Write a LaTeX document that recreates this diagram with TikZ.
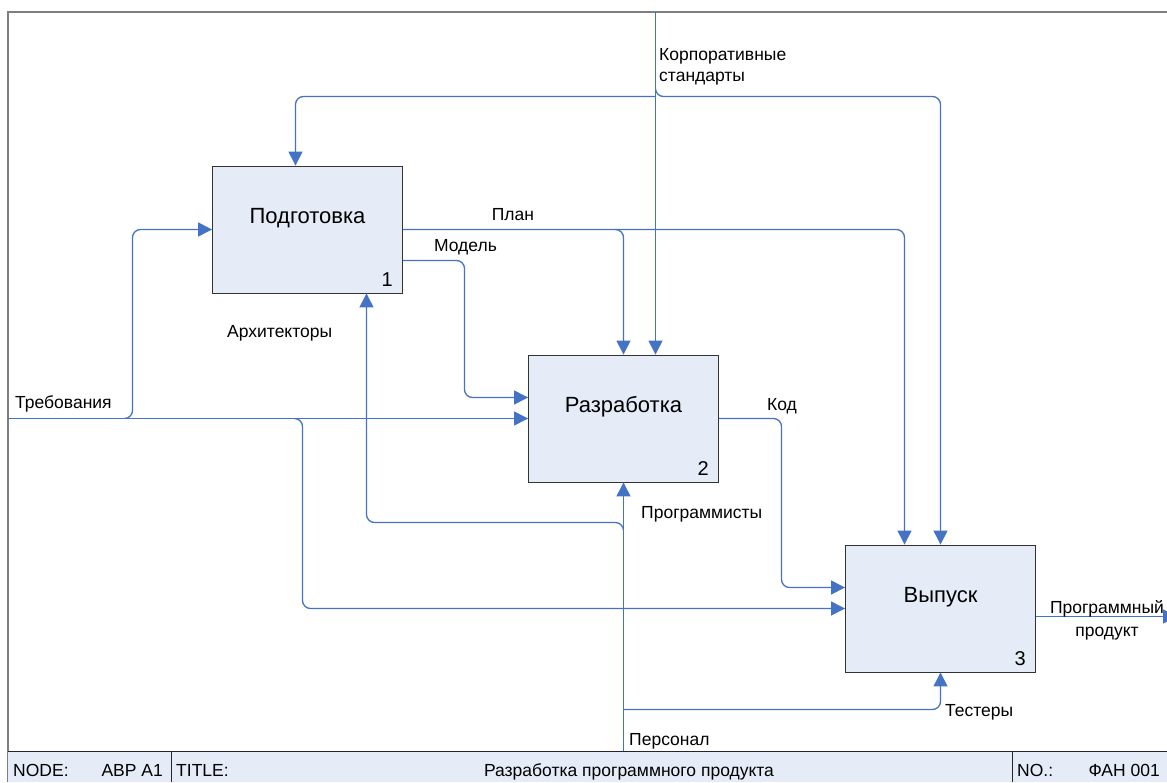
\documentclass[tikz,border=0pt]{standalone}
\usepackage{fontspec}
\setmainfont{Liberation Sans}
\usetikzlibrary{arrows.meta,calc}
\definecolor{flowblue}{HTML}{4472C4}
\definecolor{boxfill}{HTML}{E6ECF7}
\definecolor{framegray}{HTML}{7F7F7F}
\begin{document}
\begin{tikzpicture}[x=1pt,y=-1pt,
  stagebox/.style={draw=black!80, fill=boxfill, line width=0.9pt,
    minimum width=190pt, minimum height=127pt, inner sep=0pt},
  flow/.style={draw=flowblue, line width=1.3pt, rounded corners=8pt,
    -{Triangle[length=14pt,width=14pt]}},
  lbl/.style={font=\fontsize{17.5}{21.5}\selectfont, inner sep=0pt},
  boxtxt/.style={font=\fontsize{22}{26}\selectfont, inner sep=0pt, anchor=base},
  numtxt/.style={font=\fontsize{20}{24}\selectfont, inner sep=0pt, anchor=base east},
  bartxt/.style={font=\fontsize{17.5}{21}\selectfont, inner sep=0pt}]
\useasboundingbox (0,0) rectangle (1167,782);

% sheet frame
\draw[framegray, line width=2pt] (8,782) -- (8,12) -- (1170,12);

% activity boxes
\node[stagebox] (b1) at (307.5,229.5) {};
\node[stagebox] (b2) at (623.5,418.5) {};
\node[stagebox] (b3) at (940.5,608.5) {};
\node[boxtxt] (t1) at ([yshift=6pt]b1.center) {Подготовка};
\node[boxtxt] (t2) at ([yshift=6pt]b2.center) {Разработка};
\node[boxtxt] (t3) at ([yshift=6pt]b3.center) {Выпуск};
\node[numtxt] (n1) at ([xshift=-10pt,yshift=6.5pt]b1.south east) {1};
\node[numtxt] (n2) at ([xshift=-10pt,yshift=6.5pt]b2.south east) {2};
\node[numtxt] (n3) at ([xshift=-10pt,yshift=6.5pt]b3.south east) {3};

% boundary points, branch points and routing guides
\coordinate (cs) at (655.5,12);
\coordinate (csj) at (655.5,96.5);
\coordinate (req) at (8,418.5);
\coordinate (reqa) at (132.5,418.5);
\coordinate (reqb) at (302.5,418.5);
\coordinate (pers) at (623.5,751);
\coordinate (persa) at (623.5,522.5);
\coordinate (persb) at (623.5,709.5);
\coordinate (mdl) at (464.5,0);
\coordinate (kod) at (781.5,0);
\coordinate (out) at (1177,0);
\coordinate (c1) at ([xshift=-12pt]b1.north);
\coordinate (p3) at ([xshift=-36pt]b3.north);
\coordinate (pj) at (b1.east -| b2.north);
\coordinate (m1) at ([yshift=-31pt]b1.east);
\coordinate (m2) at ([yshift=21pt]b2.west);
\coordinate (k3) at ([yshift=21pt]b3.west);
\coordinate (a1) at ([xshift=59pt]b1.south);
\coordinate (o3) at ([yshift=-8pt]b3.east);

% controls
\draw[flow] (cs) -- (cs |- b2.north);
\draw[flow] (csj) -| (c1);
\draw[flow] ([yshift=8pt]csj) -- (csj) -| (b3.north);

% inputs
\draw[flow] (req) -- (b2.west);
\draw[flow] ([xshift=-8pt]reqa) -- (reqa) -- (reqa |- b1.west) -- (b1.west);
\draw[flow] ([xshift=-8pt]reqb) -- (reqb) -- (reqb |- b3.west) -- (b3.west);

% outputs between activities
\draw[flow] (b1.east) -| (p3);
\draw[flow] ([xshift=-8pt]pj) -- (pj) -- (b2.north);
\draw[flow] (m1) -| (mdl |- m2) -- (m2);
\draw[flow] (b2.east) -| (kod |- k3) -- (k3);

% mechanisms
\draw[flow] (pers) -- (b2.south);
\draw[flow] ([yshift=-8pt]persa) -- (persa) -| (a1);
\draw[flow] (persb) -| (b3.south);

% final output
\draw[flow] (o3) -- (out |- o3);

% arrow labels
\node[lbl, anchor=north west, align=left] (lcs) at (659,48) {Корпоративные\\стандарты};
\node[lbl, anchor=base] (lplan) at (513,220) {План};
\node[lbl, anchor=base] (lmdl) at (465.5,251.5) {Модель};
\node[lbl, anchor=base west] (lreq) at (15,408) {Требования};
\node[lbl, anchor=base west] (larch) at (227,337) {Архитекторы};
\node[lbl, anchor=base] (lkod) at (782,410) {Код};
\node[lbl, anchor=base west] (lprog) at (641,518) {Программисты};
\node[lbl, anchor=base west] (lpers) at (629,745.5) {Персонал};
\node[lbl, anchor=base west] (ltest) at (945,716) {Тестеры};
\node[lbl, anchor=north, align=center, font=\fontsize{17.5}{23}\selectfont] (lout) at (1107,600) {Программный\\продукт};

% title bar
\fill[boxfill] (8,751) rectangle (1170,782);
\draw[black!85, line width=1pt] (8,751) -- (1170,751);
\draw[black!85, line width=1pt] (171,751) -- (171,782);
\draw[black!85, line width=1pt] (1012,751) -- (1012,782);
\node[bartxt, anchor=base west] (hnode) at (13,776) {NODE:};
\node[bartxt, anchor=base east] (vnode) at (163,776) {ABP A1};
\node[bartxt, anchor=base west] (htitle) at (176,776) {TITLE:};
\node[bartxt, anchor=base] (vtitle) at (629,776) {Разработка программного продукта};
\node[bartxt, anchor=base west] (hno) at (1017,776) {NO.:};
\node[bartxt, anchor=base east] (vno) at (1160,776) {ФАН 001};
\end{tikzpicture}
\end{document}
